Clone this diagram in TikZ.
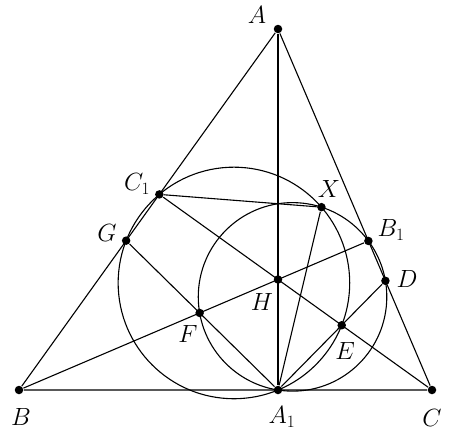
\documentclass[tikz,border=0pt]{standalone}
\begin{document}
\begin{tikzpicture}[x=1pt,y=-1pt,line width=1.1pt,
  dot/.style={circle,fill=black,inner sep=0pt,minimum size=8.5pt},
  lbl/.style={font=\fontsize{27}{32}\selectfont,inner sep=0pt}]
\useasboundingbox (0,0) rectangle (449,437);
% geometry
\coordinate (O1) at (233.93,282.95);
\coordinate (O2) at (292.53,296.87);
% circles
\draw (O1) circle[radius=115.77pt];
\draw (O2) circle[radius=94.26pt];
% points
\node[dot] (A) at (278,29) {};
\node[dot] (B) at (19,390) {};
\node[dot] (C) at (432,390) {};
\node[dot] (A1) at (278,390) {};
\node[dot] (H) at (278,279.51) {};
\node[dot] (B1) at (368.4,240.95) {};
\node[dot] (C1) at (159.35,194.4) {};
\node[dot] (G) at (126.15,240.65) {};
\node[dot] (F) at (199.65,312.94) {};
\node[dot] (X) at (321.44,207.15) {};
\node[dot] (D) at (385.42,280.80) {};
\node[dot] (E) at (341.71,325.23) {};
% lines
\draw (A) -- (B) -- (C) -- (A);
\draw (A) -- (A1);
\draw (B) -- (B1);
\draw (C) -- (C1);
\draw (C1) -- (X) -- (A1);
\draw (A1) -- (G);
\draw (A1) -- (D);
% labels
\node[lbl] (lA) at (257,15) {$A$};
\node[lbl] (lB) at (21,417) {$B$};
\node[lbl] (lC) at (432,418) {$C$};
\node[lbl] (lA1) at (282,417) {$A_1$};
\node[lbl] (lH) at (262,302) {$H$};
\node[lbl] (lB1) at (391,230) {$B_1$};
\node[lbl] (lC1) at (137,184) {$C_1$};
\node[lbl] (lG) at (107,233) {$G$};
\node[lbl] (lX) at (329,189) {$X$};
\node[lbl] (lD) at (407,279) {$D$};
\node[lbl] (lF) at (188,334) {$F$};
\node[lbl] (lE) at (345,351) {$E$};
\end{tikzpicture}
\end{document}
